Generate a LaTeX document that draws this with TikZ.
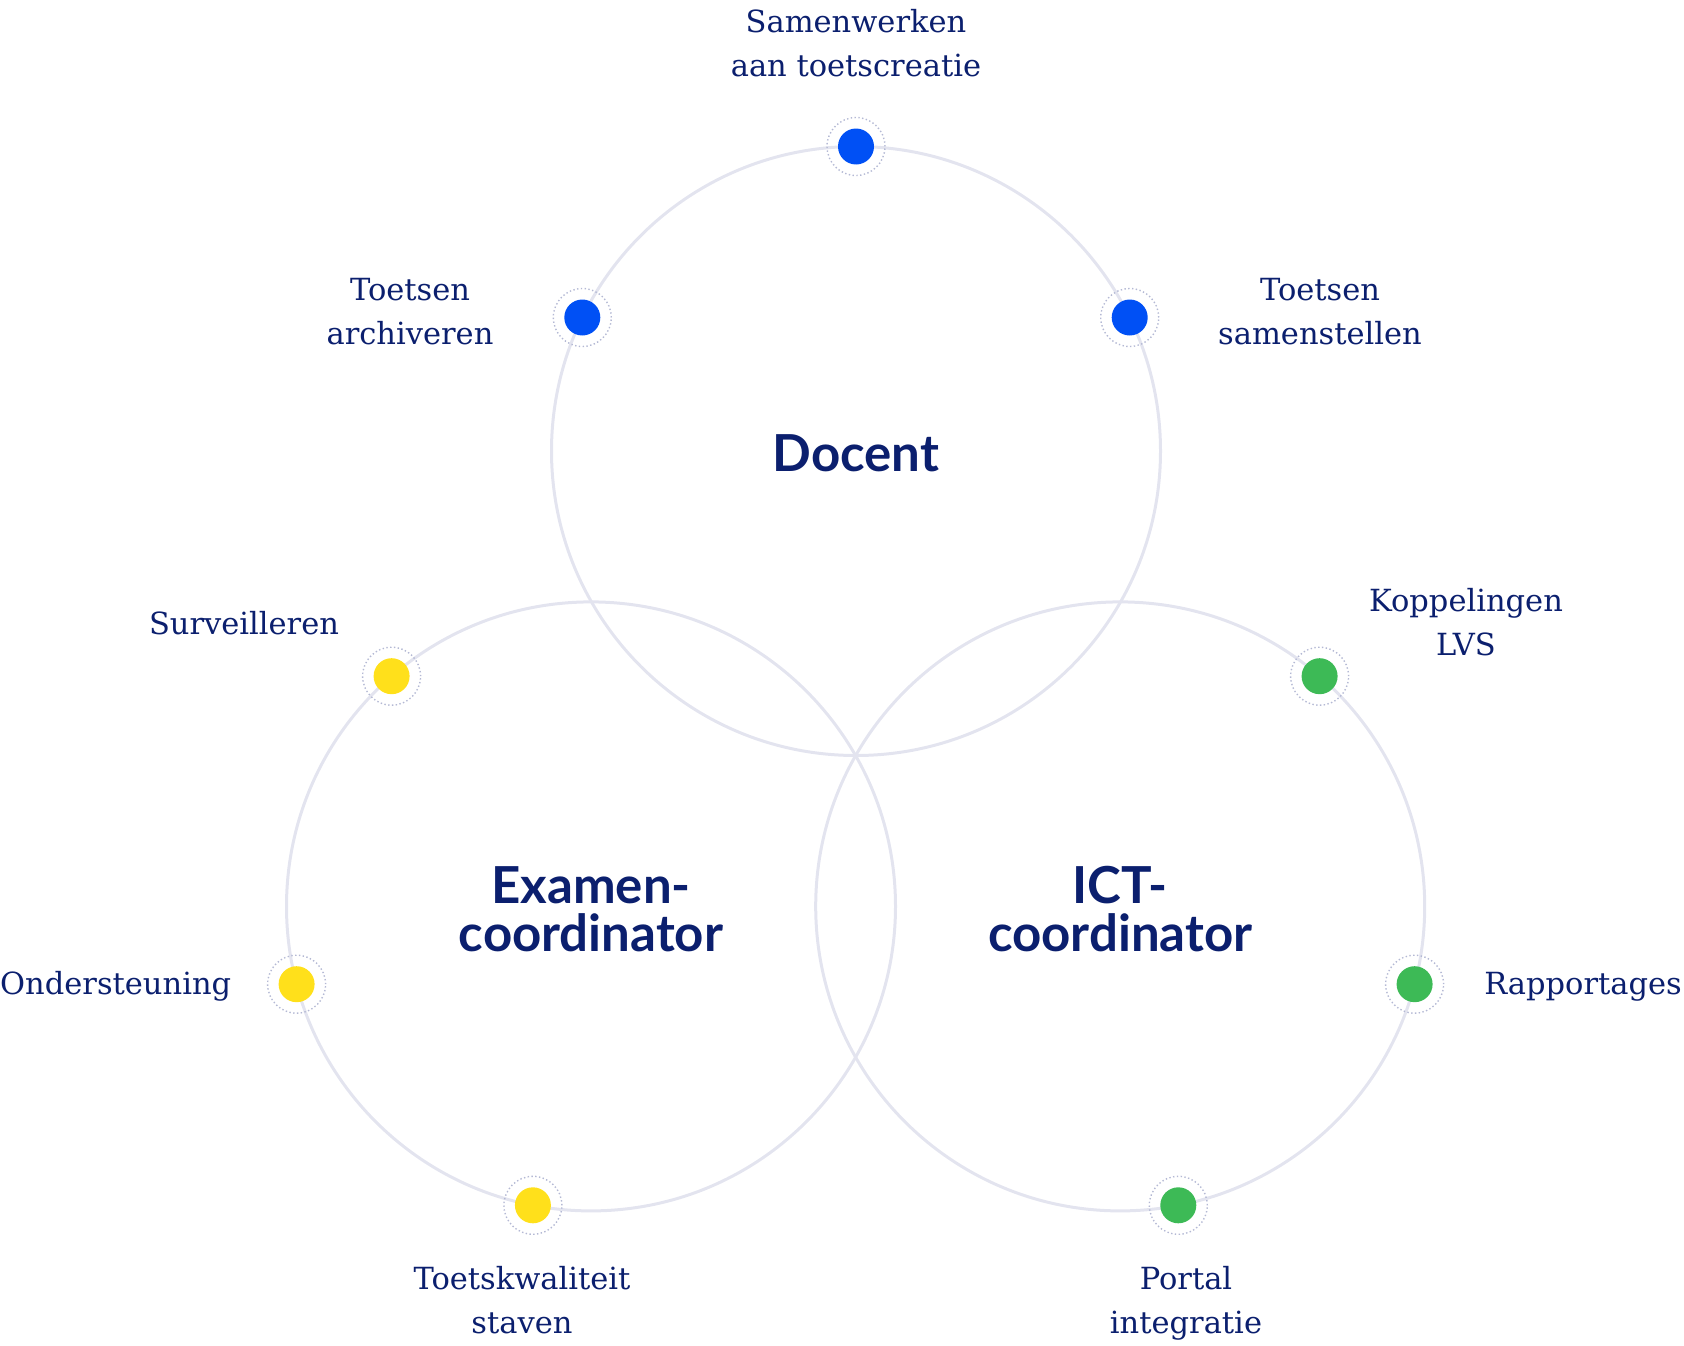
\documentclass[tikz,border=0pt]{standalone}
\usepackage{fontspec}
\setmainfont{DejaVu Serif}
\newfontfamily\titlefont{Lato}
\definecolor{navy}{HTML}{0B1F6E}
\definecolor{ringc}{HTML}{E3E4EF}
\definecolor{dotring}{HTML}{B4B9D4}
\definecolor{cblue}{HTML}{0050F5}
\definecolor{cyellow}{HTML}{FFE01B}
\definecolor{cgreen}{HTML}{3DBA56}
\begin{document}
\begin{tikzpicture}[x=1pt,y=-1pt,
  bigring/.style={draw=ringc,line width=3pt},
  halo/.style={circle,draw=dotring,line width=1.4pt,dash pattern=on 1.4pt off 2.4pt,minimum size=58pt,inner sep=0pt},
  spot/.style={circle,fill=#1,minimum size=36pt,inner sep=0pt},
  lbl/.style={text=navy,font=\fontsize{30.5}{44}\selectfont,align=center,inner sep=0pt,text height=21pt,text depth=6pt},
  ttl/.style={text=navy,font=\titlefont\bfseries\fontsize{51}{48}\selectfont,align=center,inner sep=0pt}]
\useasboundingbox (0,0) rectangle (1684,1346);
\coordinate (D) at (856,451);
\coordinate (E) at (591,906.4);
\coordinate (I) at (1120.2,906.4);
\draw[bigring] (D) circle (304.5);
\draw[bigring] (E) circle (304.5);
\draw[bigring] (I) circle (304.5);
% dots
\foreach \n/\p/\c in {d1/{856,146.5}/cblue, d2/{582.3,317.5}/cblue, d3/{1129.7,317.5}/cblue,
  e1/{391.6,676.2}/cyellow, e2/{296.6,984.2}/cyellow, e3/{532.9,1205.3}/cyellow,
  i1/{1319.6,676.2}/cgreen, i2/{1414.6,984.2}/cgreen, i3/{1178.3,1205.3}/cgreen}{
  \node[halo] (h\n) at (\p) {};
  \node[spot=\c] (\n) at (\p) {};
}
% titles
\node[ttl] (tD) at (856,453) {Docent};
\node[ttl,text height=36pt,text depth=10pt] (tE) at (591,938) {Examen-\\coordinator};
\node[ttl,text height=36pt,text depth=10pt] (tI) at (1120.2,938) {ICT-\\coordinator};
% labels
\node[lbl] (l1) at (856,69) {Samenwerken\\aan toetscreatie};
\node[lbl] (l2) at (410,337) {Toetsen\\archiveren};
\node[lbl] (l3) at (1320,337) {Toetsen\\samenstellen};
\node[lbl] (l4) at (244,627) {Surveilleren};
\node[lbl,anchor=west] (l5) at (0,987) {Ondersteuning};
\node[lbl] (l6) at (522,1326) {Toetskwaliteit\\staven};
\node[lbl] (l7) at (1466,648) {Koppelingen\\LVS};
\node[lbl,anchor=east] (l8) at (1682,987) {Rapportages};
\node[lbl] (l9) at (1186,1326) {Portal\\integratie};
\end{tikzpicture}
\end{document}
